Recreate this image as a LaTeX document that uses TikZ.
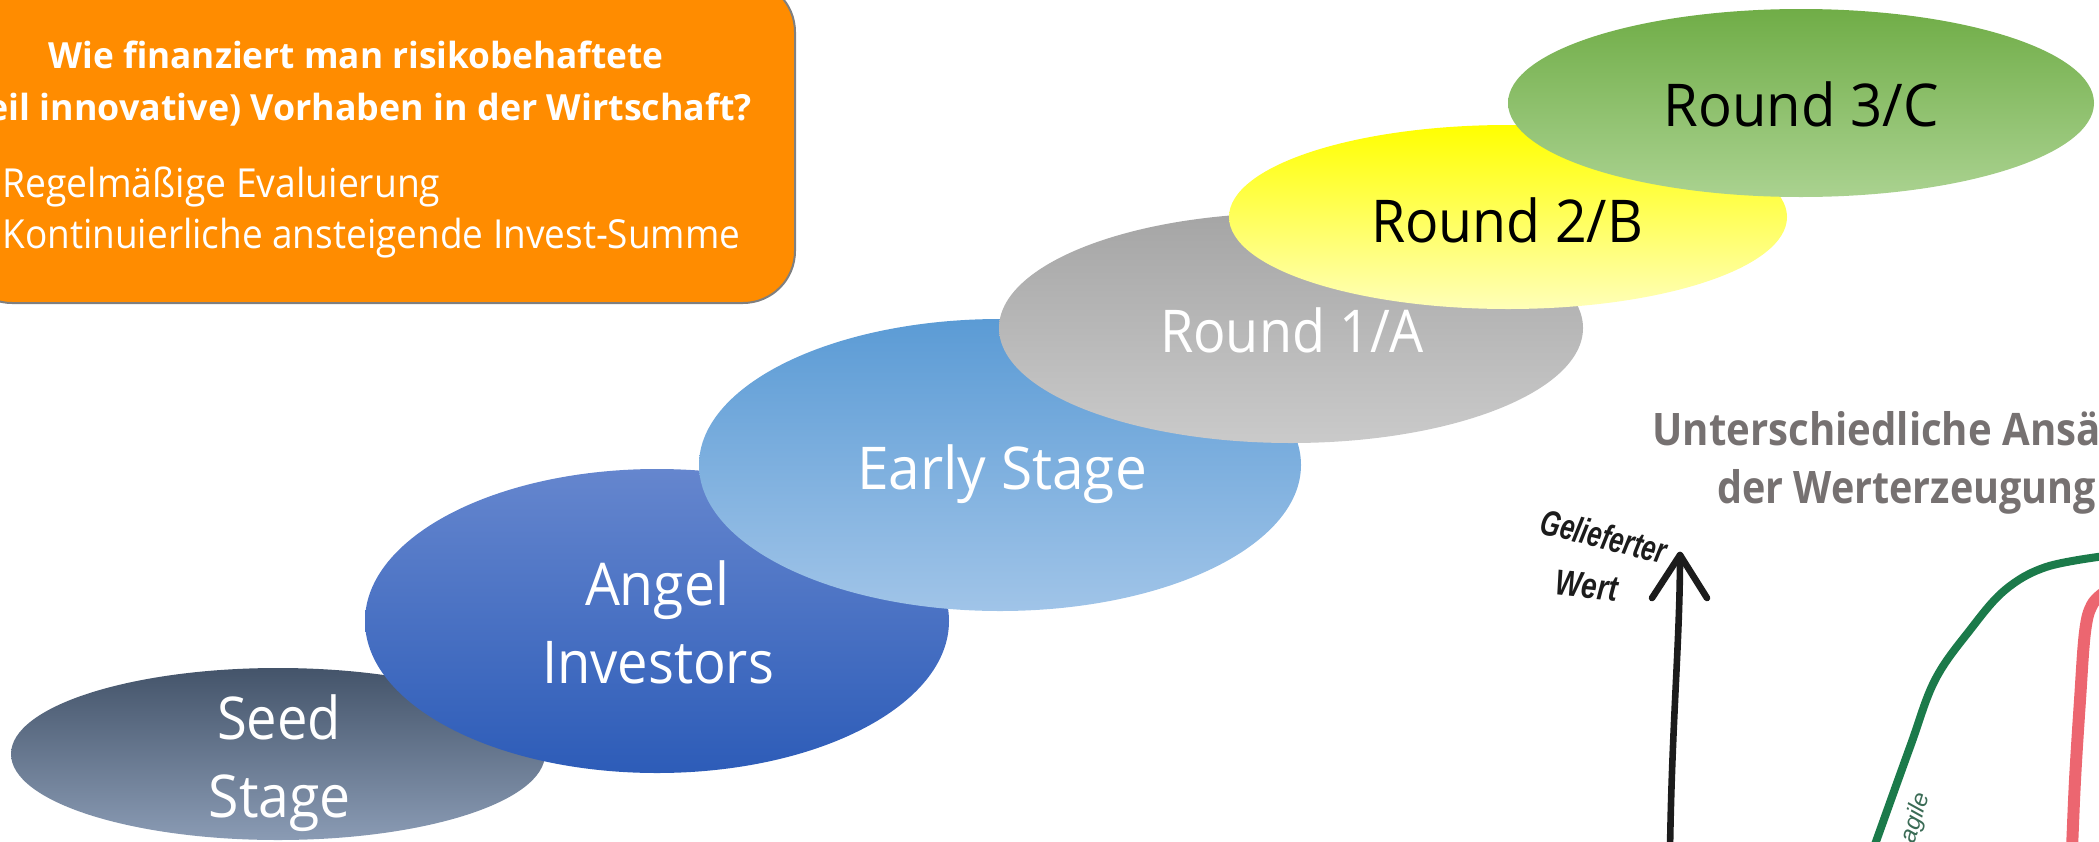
\documentclass[tikz,border=0pt]{standalone}
\usepackage{fontspec}
\setmainfont{Open Sans}
\newfontfamily\handfont{Liberation Sans}
\usetikzlibrary{shapes.geometric}
\newcommand{\fw}[2]{\resizebox{#1}{\height}{#2}}
\definecolor{boxorange}{HTML}{FF8C00}
\definecolor{boxgray}{HTML}{7F7F7F}
\definecolor{titlegray}{HTML}{767171}
\definecolor{seedtop}{HTML}{44546A}
\definecolor{seedbot}{HTML}{8A9BB4}
\definecolor{angeltop}{HTML}{6586CE}
\definecolor{angelbot}{HTML}{2D5CB8}
\definecolor{earlytop}{HTML}{5B9BD5}
\definecolor{earlybot}{HTML}{A0C4E8}
\definecolor{ronetop}{HTML}{A5A5A5}
\definecolor{ronebot}{HTML}{CACACA}
\definecolor{rtwotop}{HTML}{FFFF00}
\definecolor{rtwobot}{HTML}{FFFFB8}
\definecolor{rthreetop}{HTML}{70AD47}
\definecolor{rthreebot}{HTML}{AAD290}
\definecolor{pengreen}{HTML}{1B7A4A}
\definecolor{penred}{HTML}{EC6670}
\definecolor{penblack}{HTML}{1C1C1C}
\definecolor{agilegreen}{HTML}{3A6B55}
\begin{document}
\begin{tikzpicture}[x=0.5pt,y=-0.5pt,
  stageshape/.style={ellipse, inner sep=0pt, draw=none},
  txt/.style={inner sep=0pt, anchor=base},
  stagefont/.style={font=\fontsize{29.5}{35}\selectfont},
  pen/.style={draw=penblack, line width=3.3pt, line cap=round, line join=round},
  greenpen/.style={draw=pengreen, line width=4pt, line cap=round},
  redpen/.style={draw=penred, line width=6pt, line cap=round},
  hand/.style={inner sep=0pt, text=penblack, font=\handfont\bfseries\itshape\fontsize{18}{20}\selectfont}]
\useasboundingbox (0,0) rectangle (2099,841);
\begin{scope}
\clip (0,0) rectangle (2099,841);
% question box
\node[draw=boxgray, line width=1pt, fill=boxorange, rounded corners=26pt,
      minimum width=417.5pt, minimum height=161.5pt, inner sep=0pt] (qbox) at (377.5,141.5) {};
\node[txt, text=white, font=\bfseries\fontsize{18}{22}\selectfont] (q1) at (356,68)
  {\fw{307.5pt}{Wie finanziert man risikobehaftete}};
\node[txt, text=white, font=\bfseries\fontsize{18}{22}\selectfont] (q2) at (356,120)
  {\fw{396pt}{(teil innovative) Vorhaben in der Wirtschaft?}};
\node[txt, anchor=base west, text=white, font=\fontsize{20}{24}\selectfont] (b1) at (2,197)
  {\fw{219pt}{Regelmäßige Evaluierung}};
\node[txt, anchor=base west, text=white, font=\fontsize{20}{24}\selectfont] (b2) at (2,248)
  {\fw{369pt}{Kontinuierliche ansteigende Invest-Summe}};
% stages
\node[stageshape, minimum width=267pt, minimum height=86pt, top color=seedtop, bottom color=seedbot] (seed) at (278,754) {};
\node[stageshape, minimum width=292pt, minimum height=152pt, top color=angeltop, bottom color=angelbot] (angel) at (657,621) {};
\node[stageshape, minimum width=301pt, minimum height=146pt, top color=earlytop, bottom color=earlybot] (early) at (1000,465) {};
\node[stageshape, minimum width=292pt, minimum height=115pt, top color=ronetop, bottom color=ronebot] (rone) at (1291,328) {};
\node[stageshape, minimum width=279pt, minimum height=92pt, top color=rtwotop, bottom color=rtwobot] (rtwo) at (1508,217) {};
\node[stageshape, minimum width=293pt, minimum height=94pt, top color=rthreetop, bottom color=rthreebot] (rthree) at (1801,103) {};
% stage labels
\node[txt, stagefont, text=white] (seedA) at (279,739) {\fw{62pt}{Seed}};
\node[txt, stagefont, text=white] (seedB) at (280,817) {\fw{71pt}{Stage}};
\node[txt, stagefont, text=white] (angelA) at (657,605) {\fw{72pt}{Angel}};
\node[txt, stagefont, text=white] (angelB) at (658,683) {\fw{116pt}{Investors}};
\node[txt, stagefont, text=white] (earlyA) at (1002,489) {\fw{145pt}{Early Stage}};
\node[txt, stagefont, text=white] (roneA) at (1292,352) {\fw{132pt}{Round 1/A}};
\node[txt, stagefont, text=black] (rtwoA) at (1507,242) {\fw{136pt}{Round 2/B}};
\node[txt, stagefont, text=black] (rthreeA) at (1801,126) {\fw{137.5pt}{Round 3/C}};
% right title
\node[txt, anchor=base west, text=titlegray, font=\bfseries\fontsize{22.4}{26}\selectfont] (g1) at (1652,445)
  {\fw{254.5pt}{Unterschiedliche Ansätze}};
\node[txt, text=titlegray, font=\bfseries\fontsize{22.4}{26}\selectfont] (g2) at (1906.5,503)
  {\fw{189.5pt}{der Werterzeugung}};
% sketch
\coordinate (ybot) at (1670,850);
\coordinate (ytip) at (1680,555);
\coordinate (yl) at (1652,598);
\coordinate (yr) at (1707,598);
\draw[pen] (ybot) .. controls (1672,720) and (1680,640) .. (ytip);
\draw[pen] (yl) -- (ytip) -- (yr);
\node[hand, rotate=-14] (ylabA) at (1604,536) {\fw{64pt}{Gelieferter}};
\node[hand, rotate=-6] (ylabB) at (1587,586) {\fw{31pt}{Wert}};
\draw[greenpen] plot[smooth, tension=0.6] coordinates {(1873,850) (1910,747) (1935,680) (1970,630) (2005,590) (2046,567) (2105,556)};
\draw[redpen] plot[smooth, tension=0.6] coordinates {(2072,850) (2075,780) (2080,700) (2085,632) (2092,605) (2105,592)};
\node[inner sep=0pt, rotate=72, text=agilegreen, font=\handfont\itshape\fontsize{12}{14}\selectfont] (agl) at (1916,818) {agile};
\end{scope}
\end{tikzpicture}
\end{document}
